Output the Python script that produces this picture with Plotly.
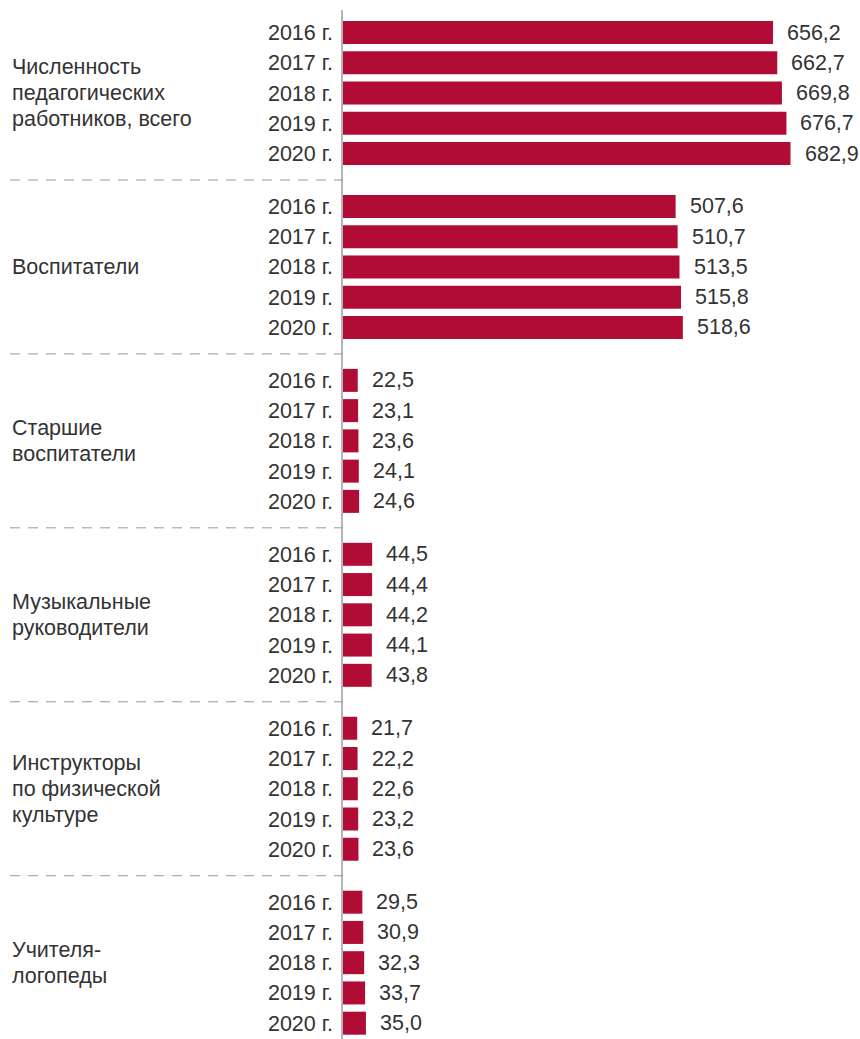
import plotly.graph_objects as go

groups = [
    ["Численность", "педагогических", "работников, всего"],
    ["Воспитатели"],
    ["Старшие", "воспитатели"],
    ["Музыкальные", "руководители"],
    ["Инструкторы", "по физической", "культуре"],
    ["Учителя-", "логопеды"],
]
years = ["2016 г.", "2017 г.", "2018 г.", "2019 г.", "2020 г."]

total = [656.2, 662.7, 669.8, 676.7, 682.9]
educators = [507.6, 510.7, 513.5, 515.8, 518.6]
senior_educators = [22.5, 23.1, 23.6, 24.1, 24.6]
music_directors = [44.5, 44.4, 44.2, 44.1, 43.8]
pe_instructors = [21.7, 22.2, 22.6, 23.2, 23.6]
speech_therapists = [29.5, 30.9, 32.3, 33.7, 35.0]

series = [total, educators, senior_educators, music_directors, pe_instructors, speech_therapists]

GROUP_STEP = 5.75
BAR_COLOR = "#B00C35"
TEXT_COLOR = "#333333"
FONT = "Liberation Sans, Arial, sans-serif"
FS = 21.5

W, H = 860, 1039
slot_px = 30.25
LINE_H = 26 / slot_px

ys, xs, ticktext = [], [], []
for g, vals in enumerate(series):
    for i, v in enumerate(vals):
        ys.append(g * GROUP_STEP + i)
        xs.append(v)
        ticktext.append(years[i])

fig = go.Figure(go.Bar(
    x=xs, y=ys, orientation="h", width=0.76,
    marker=dict(color=BAR_COLOR, line=dict(width=0)),
    hoverinfo="skip",
))

annotations = []
for x, y in zip(xs, ys):
    annotations.append(dict(
        x=x, y=y, xref="x", yref="y", text=f"{x:.1f}".replace(".", ","),
        showarrow=False, xanchor="left", yanchor="middle", xshift=12,
        font=dict(family=FONT, size=FS, color=TEXT_COLOR),
    ))

PLOT_L = 343
PLOT_W = W - PLOT_L
label_x = (10 - PLOT_L) / PLOT_W

for g, lines in enumerate(groups):
    center = g * GROUP_STEP + 2
    n = len(lines)
    for k, line in enumerate(lines):
        annotations.append(dict(
            x=label_x, y=center + (k - (n - 1) / 2) * LINE_H, xref="paper", yref="y",
            text=line, showarrow=False, xanchor="left", yanchor="middle", align="left",
            font=dict(family=FONT, size=FS, color=TEXT_COLOR),
        ))

shapes = []
for g in range(len(groups) - 1):
    yy = g * GROUP_STEP + 4 + (GROUP_STEP - 4) / 2
    shapes.append(dict(
        type="line", xref="paper", yref="y", x0=label_x, x1=0, y0=yy, y1=yy,
        line=dict(color="#9a9a9a", width=1, dash="10px,8px"),
    ))

TOP = 10
plot_h = H - TOP
top = -(32.5 - 10) / slot_px
bottom = top + plot_h / slot_px

fig.update_layout(
    width=W, height=H,
    margin=dict(l=PLOT_L, r=0, t=TOP, b=0),
    paper_bgcolor="white", plot_bgcolor="white",
    showlegend=False,
    annotations=annotations, shapes=shapes,
    font=dict(family=FONT, size=FS, color=TEXT_COLOR),
    xaxis=dict(range=[0, PLOT_W / 0.6553], visible=False, fixedrange=True),
    yaxis=dict(
        range=[bottom, top], tickvals=ys, ticktext=ticktext,
        showline=True, linecolor="#b5b5b5", linewidth=1.5,
        showgrid=False, zeroline=False, ticks="", ticklabelstandoff=4,
        tickfont=dict(family=FONT, size=FS, color=TEXT_COLOR),
        fixedrange=True,
    ),
)

fig.write_html(
    "out.html",
    config={"displayModeBar": False},
    post_script="document.body.style.margin='0';document.body.style.overflow='hidden';",
)
